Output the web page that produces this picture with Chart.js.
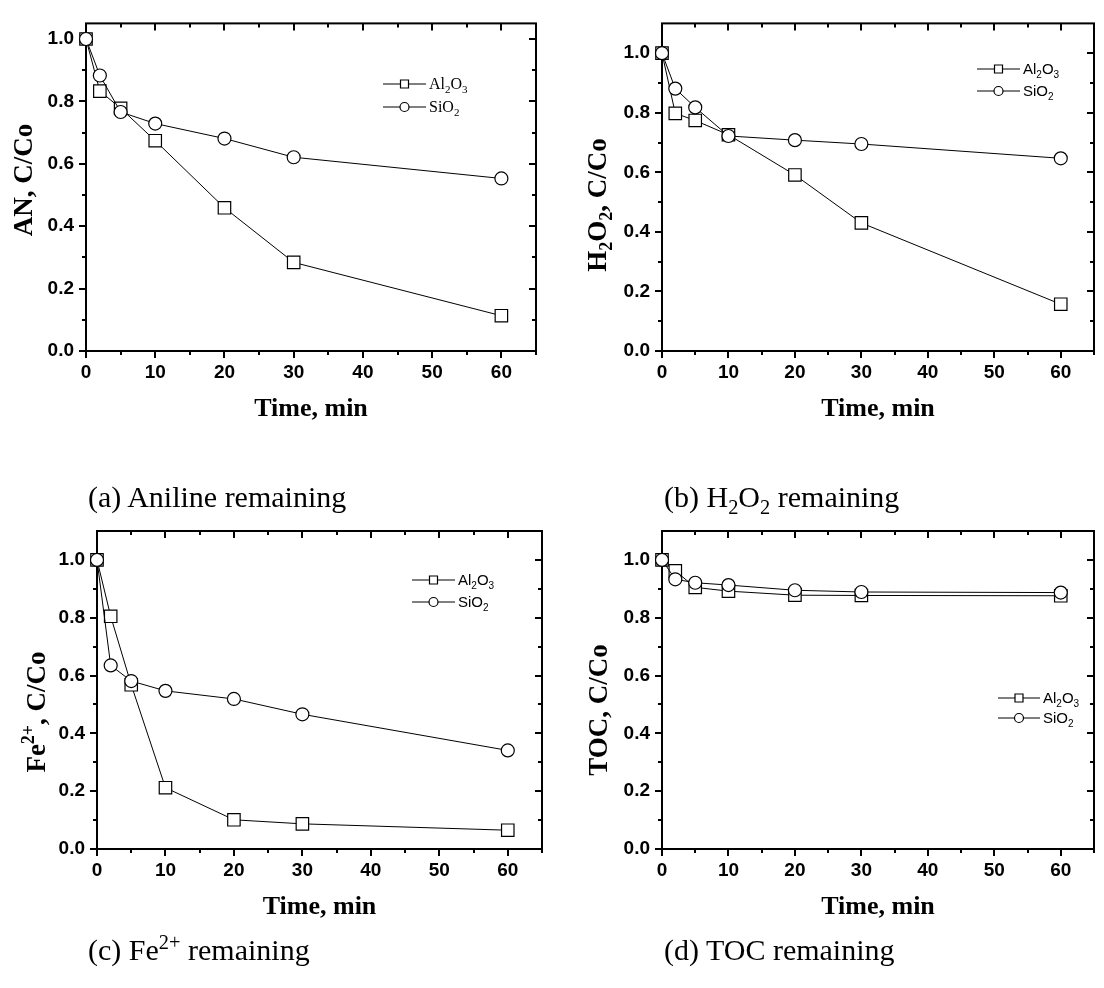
<!DOCTYPE html>
<html><head><meta charset="utf-8">
<script src="https://cdn.jsdelivr.net/npm/chart.js@4.4.1/dist/chart.umd.min.js"></script>
<style>
html,body{margin:0;padding:0;background:#fff;}
body{width:1104px;height:988px;position:relative;overflow:hidden;}
.panel{position:absolute;}
.cap{position:absolute;font-family:"Liberation Serif","Times New Roman",serif;font-size:30px;color:#000;white-space:nowrap;line-height:1;}
.cap sub,.cap sup{font-size:0.68em;line-height:0;}
</style></head><body>
<div class="panel" style="left:0;top:0;width:552px;height:440px"><canvas id="cA"></canvas></div>
<div class="panel" style="left:552px;top:0;width:552px;height:440px"><canvas id="cB"></canvas></div>
<div class="panel" style="left:0;top:440px;width:552px;height:548px"><canvas id="cC"></canvas></div>
<div class="panel" style="left:552px;top:440px;width:552px;height:548px"><canvas id="cD"></canvas></div>
<div class="cap" style="left:88px;top:482px">(a) Aniline remaining</div>
<div class="cap" style="left:664px;top:482px">(b) H<sub>2</sub>O<sub>2</sub> remaining</div>
<div class="cap" style="left:88px;top:935px">(c) Fe<sup>2+</sup> remaining</div>
<div class="cap" style="left:664px;top:935px">(d) TOC remaining</div>
<script>
// ---------- data ----------
const TIME_MIN = [0, 2, 5, 10, 20, 30, 60];
const SERIES = ['Al_2O_3', 'SiO_2'];
const AN_AL2O3 = [1.0, 0.833, 0.778, 0.674, 0.459, 0.284, 0.113];
const AN_SIO2 = [1.0, 0.883, 0.766, 0.729, 0.681, 0.621, 0.553];
const H2O2_AL2O3 = [1.0, 0.798, 0.774, 0.726, 0.591, 0.430, 0.157];
const H2O2_SIO2 = [1.0, 0.881, 0.818, 0.722, 0.708, 0.695, 0.647];
const FE_AL2O3 = [1.0, 0.805, 0.568, 0.212, 0.101, 0.087, 0.065];
const FE_SIO2 = [1.0, 0.635, 0.581, 0.547, 0.519, 0.466, 0.341];
const TOC_AL2O3 = [1.0, 0.962, 0.905, 0.892, 0.878, 0.877, 0.876];
const TOC_SIO2 = [1.0, 0.933, 0.921, 0.913, 0.895, 0.889, 0.887];
const X_TICKS = [0, 10, 20, 30, 40, 50, 60];
const X_MINOR = [5, 15, 25, 35, 45, 55, 65];
const Y_TICKS = [0, 0.2, 0.4, 0.6, 0.8, 1.0];
const Y_MINOR = [0.1, 0.3, 0.5, 0.7, 0.9];
const X_TITLE = 'Time, min';
const Y_TITLES = ['AN, C/Co', 'H_2O_2, C/Co', 'Fe^{2+}, C/Co', 'TOC, C/Co'];

// ---------- helpers ----------
function parseRich(s) {
  const parts = []; let i = 0, buf = '';
  while (i < s.length) {
    const c = s[i];
    if (c === '_' || c === '^') {
      if (buf) { parts.push({t: buf, k: 0}); buf = ''; }
      let t;
      if (s[i + 1] === '{') { const j = s.indexOf('}', i); t = s.slice(i + 2, j); i = j + 1; }
      else { t = s[i + 1]; i += 2; }
      parts.push({t, k: c === '_' ? 1 : -1});
    } else { buf += c; i++; }
  }
  if (buf) parts.push({t: buf, k: 0});
  return parts;
}
function drawRich(ctx, s, x, y, size, family, weight, align) {
  const parts = parseRich(s);
  const fontFor = k => `${weight} ${k ? Math.round(size * 0.66) : size}px ${family}`;
  let w = 0;
  parts.forEach(p => { ctx.font = fontFor(p.k); p.w = ctx.measureText(p.t).width; w += p.w; });
  let cx = align === 'center' ? x - w / 2 : x;
  ctx.textAlign = 'left'; ctx.textBaseline = 'alphabetic'; ctx.fillStyle = '#000';
  parts.forEach(p => {
    ctx.font = fontFor(p.k);
    const dy = p.k === 1 ? size * 0.24 : (p.k === -1 ? -size * 0.42 : 0);
    ctx.fillText(p.t, cx, y + dy);
    cx += p.w;
  });
}
const pts = (xs, ys) => xs.map((x, i) => ({x, y: ys[i]}));

// ---------- plugins ----------
const framePlugin = {
  id: 'frame',
  beforeDatasetsDraw(chart, args, o) {
    const {ctx, chartArea: a, scales: {x, y}} = chart;
    ctx.save();
    ctx.strokeStyle = '#000'; ctx.lineWidth = 2; ctx.lineCap = 'butt';
    const seg = (x1, y1, x2, y2) => { ctx.beginPath(); ctx.moveTo(x1, y1); ctx.lineTo(x2, y2); ctx.stroke(); };
    const xt = X_TICKS.map(v => [v, o.major]).concat(X_MINOR.map(v => [v, o.minor]));
    xt.forEach(([v, len]) => {
      const px = Math.round(x.getPixelForValue(v));
      seg(px, a.bottom, px, a.bottom + len);
      seg(px, a.top, px, a.top + len);
    });
    const yt = Y_TICKS.map(v => [v, o.major]).concat(Y_MINOR.map(v => [v, o.minor]));
    yt.forEach(([v, len]) => {
      const py = Math.round(y.getPixelForValue(v));
      seg(a.left - len, py, a.left, py);
      seg(a.right - len, py, a.right, py);
    });
    ctx.strokeRect(a.left, a.top, a.right - a.left, a.bottom - a.top);
    ctx.restore();
  }
};
const yTitlePlugin = {
  id: 'yTitle',
  afterDraw(chart, args, o) {
    const ctx = chart.ctx;
    ctx.save();
    ctx.translate(o.x, o.y);
    ctx.rotate(-Math.PI / 2);
    drawRich(ctx, o.text, 0, o.size * 0.33, o.size, '"Liberation Serif", serif', 'bold', 'center');
    ctx.restore();
  }
};
const richLegendPlugin = {
  id: 'richLegend',
  afterDraw(chart, args, o) {
    const ctx = chart.ctx;
    ctx.save();
    chart.data.datasets.forEach((ds, i) => {
      const ry = o.y + i * o.dy;
      ctx.strokeStyle = '#000'; ctx.lineWidth = 1;
      ctx.beginPath(); ctx.moveTo(o.x, ry); ctx.lineTo(o.x + o.len, ry); ctx.stroke();
      const mx = o.x + o.len / 2;
      ctx.fillStyle = '#fff'; ctx.lineWidth = 1.2;
      ctx.beginPath();
      if (ds.pointStyle === 'rect') ctx.rect(mx - 4, ry - 4, 8, 8);
      else ctx.arc(mx, ry, 4.5, 0, Math.PI * 2);
      ctx.fill(); ctx.stroke();
      drawRich(ctx, ds.label, o.x + o.len + 3, ry + o.size * 0.34, o.size, o.family, 'normal', 'left');
    });
    ctx.restore();
  }
};

// ---------- charts ----------
const TICK_FONT = {family: '"Liberation Sans", Arial, sans-serif', size: 19, weight: 'bold'};
function makeChart(p) {
  const common = {borderColor: '#000', borderWidth: 1, pointBackgroundColor: '#fff', pointBorderColor: '#000',
                  pointBorderWidth: 1.2, tension: 0, clip: false, fill: false};
  return new Chart(document.getElementById(p.id), {
    type: 'line',
    data: {datasets: [
      Object.assign({label: SERIES[0], data: pts(TIME_MIN, p.al), pointStyle: 'rect', pointRadius: 8.8, order: 2}, common),
      Object.assign({label: SERIES[1], data: pts(TIME_MIN, p.si), pointStyle: 'circle', pointRadius: 6.5, order: 1}, common)
    ]},
    plugins: [framePlugin, yTitlePlugin, richLegendPlugin],
    options: {
      responsive: true, maintainAspectRatio: false, animation: false, events: [],
      layout: {padding: {top: p.pad.top, right: p.pad.right, left: 0, bottom: 0}},
      plugins: {
        legend: {display: false}, tooltip: {enabled: false},
        frame: {major: 7, minor: 4},
        yTitle: {text: p.title, x: p.yt.x, y: p.yt.y, size: 27},
        richLegend: p.leg
      },
      scales: {
        x: {type: 'linear', min: 0, max: 65,
            afterFit: s => { s.height = p.xh; },
            afterBuildTicks: s => { s.ticks = X_TICKS.map(v => ({value: v})); },
            grid: {display: false, drawTicks: false}, border: {display: false},
            ticks: {padding: 10, font: TICK_FONT, color: '#000', maxRotation: 0, autoSkip: false, callback: v => String(v)},
            title: {display: true, text: X_TITLE, color: '#000',
                    font: {family: '"Liberation Serif", serif', size: 26, weight: 'bold'},
                    padding: {top: 0, bottom: p.xtPad}}},
        y: {type: 'linear', min: 0, max: p.ymax,
            afterFit: s => { s.width = p.yw; },
            afterBuildTicks: s => { s.ticks = Y_TICKS.map(v => ({value: v})); },
            grid: {display: false, drawTicks: false}, border: {display: false},
            ticks: {padding: 12, font: TICK_FONT, color: '#000', autoSkip: false, callback: v => v.toFixed(1)}}
      }
    }
  });
}
const PANELS = [
  {id: 'cA', al: AN_AL2O3, si: AN_SIO2, title: Y_TITLES[0], ymax: 1.05, pad: {top: 17, right: 16}, yw: 86, xh: 89, xtPad: 15.4,
   yt: {x: 23, y: 180}, leg: {x: 383, y: 84, dy: 23, len: 43, family: '"Liberation Serif", serif', size: 16}},
  {id: 'cB', al: H2O2_AL2O3, si: H2O2_SIO2, title: Y_TITLES[1], ymax: 1.1, pad: {top: 17, right: 2}, yw: 110, xh: 89, xtPad: 15.4,
   yt: {x: 45, y: 205}, leg: {x: 425, y: 69, dy: 22, len: 43, family: '"Liberation Sans", Arial, sans-serif', size: 15}},
  {id: 'cC', al: FE_AL2O3, si: FE_SIO2, title: Y_TITLES[2], ymax: 1.1, pad: {top: 91, right: 4}, yw: 97, xh: 139, xtPad: 65.4,
   yt: {x: 36, y: 272}, leg: {x: 412, y: 140, dy: 22, len: 43, family: '"Liberation Sans", Arial, sans-serif', size: 15}},
  {id: 'cD', al: TOC_AL2O3, si: TOC_SIO2, title: Y_TITLES[3], ymax: 1.1, pad: {top: 91, right: 2}, yw: 110, xh: 139, xtPad: 65.4,
   yt: {x: 46, y: 270}, leg: {x: 446, y: 258, dy: 20, len: 42, family: '"Liberation Sans", Arial, sans-serif', size: 15}}
];
PANELS.forEach(makeChart);
</script>
</body></html>
